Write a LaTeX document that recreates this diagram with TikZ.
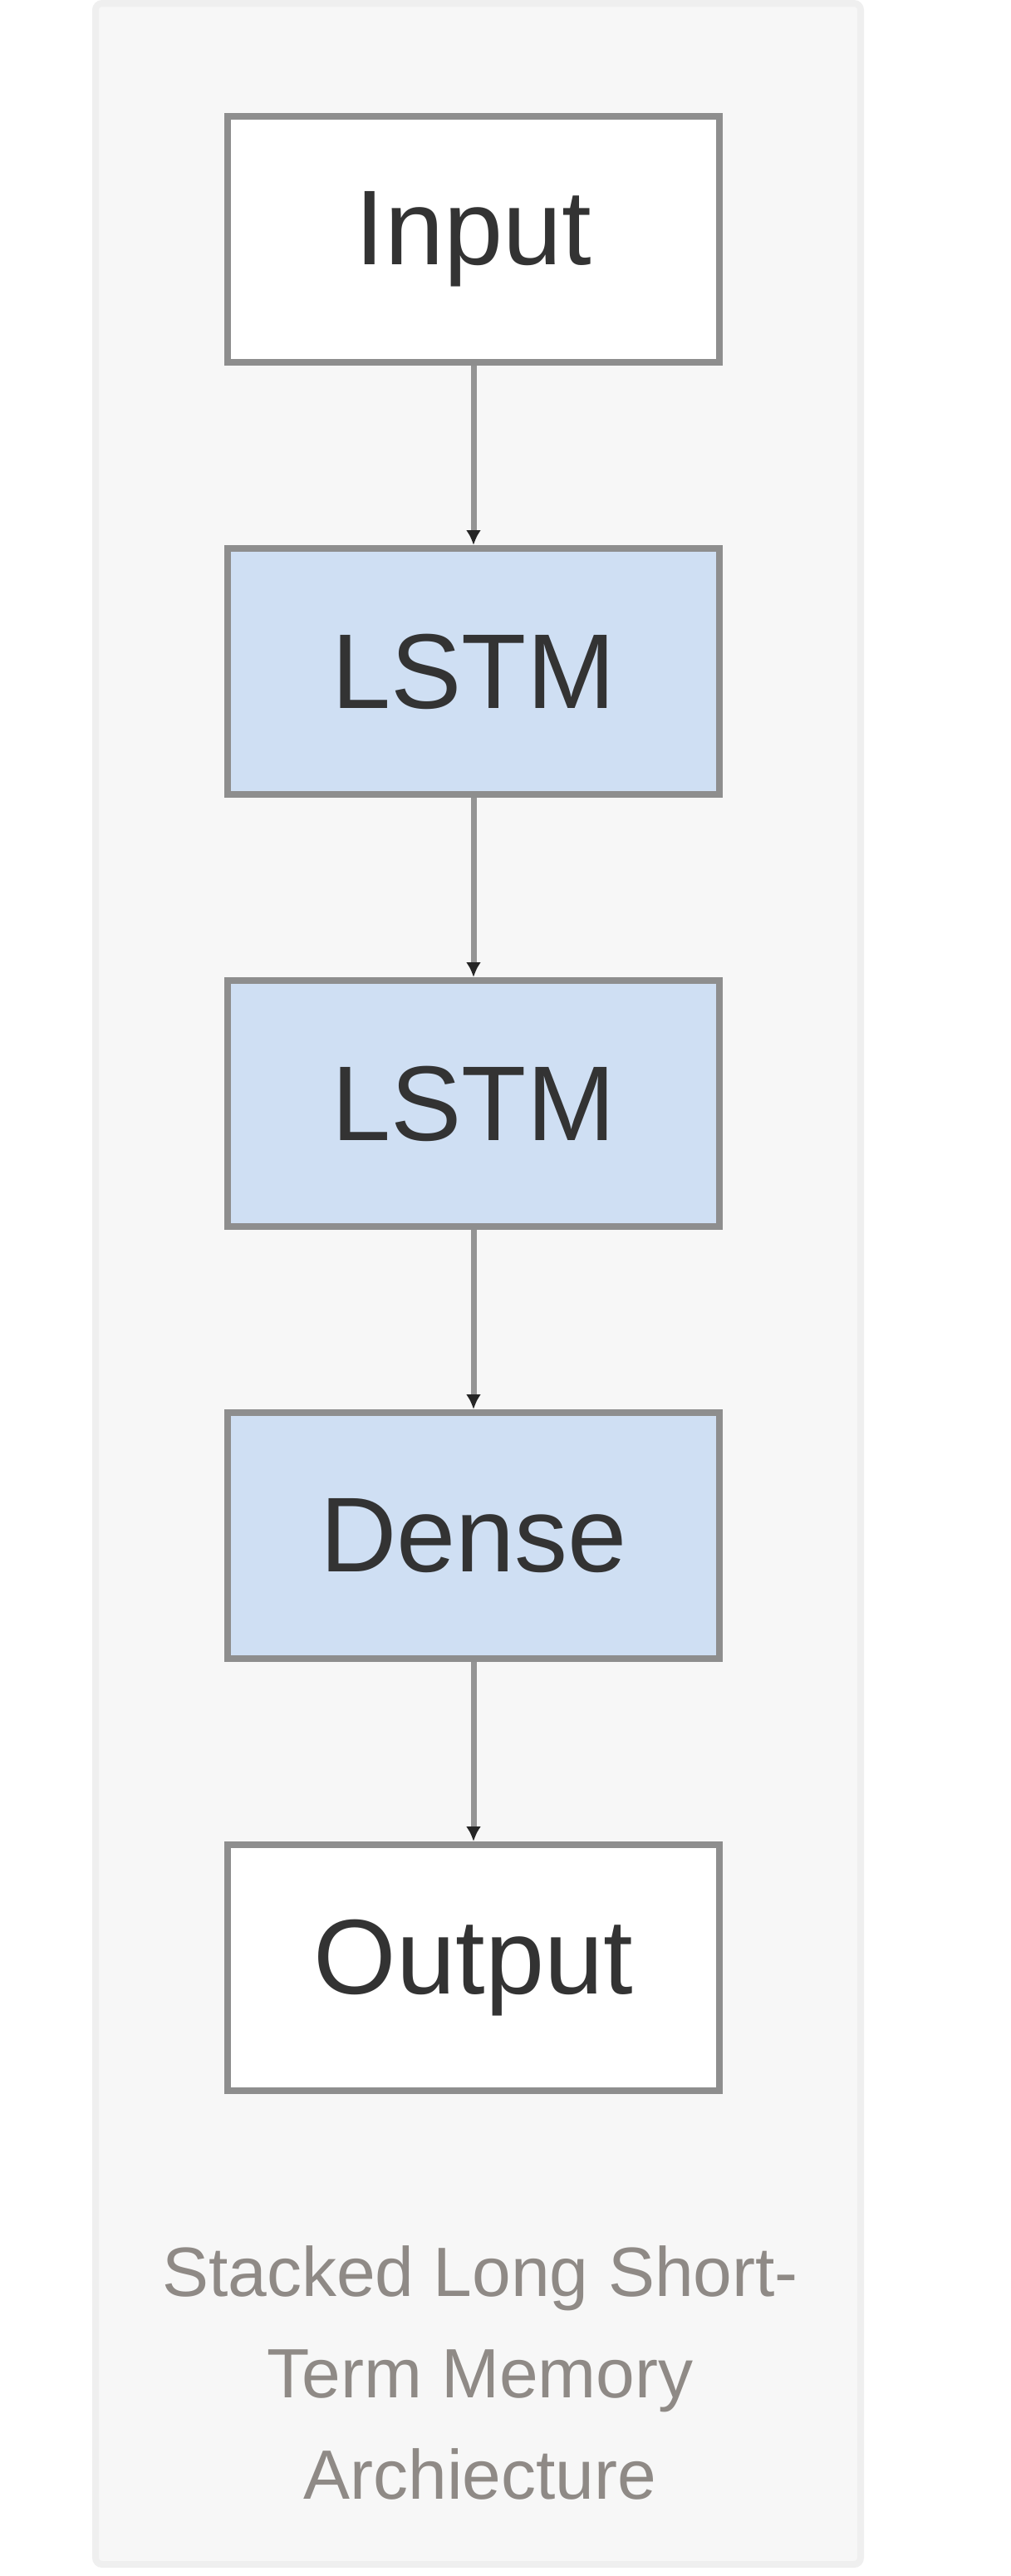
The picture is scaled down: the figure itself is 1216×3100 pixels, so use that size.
\documentclass[tikz,border=0pt]{standalone}
\usepackage{fontspec}
\setmainfont{Liberation Sans}
\usetikzlibrary{positioning, arrows.meta}
\definecolor{panelbg}{HTML}{F7F7F7}
\definecolor{panelrule}{HTML}{EFEFEF}
\definecolor{boxrule}{HTML}{8E8E8E}
\definecolor{layerfill}{HTML}{CFDFF3}
\definecolor{linkgray}{HTML}{949494}
\definecolor{captiongray}{HTML}{8F8A86}

\begin{document}
\begin{tikzpicture}[x=0.5pt, y=-0.5pt, font=\fontsize{64}{64}\selectfont,
    io/.style={draw=boxrule, line width=4pt, fill=white, minimum width=296pt,
      minimum height=148pt, inner sep=0pt, text=black!80},
    layer/.style={io, fill=layerfill},
    flow/.style={draw=linkgray, line width=3.5pt, -{Latex[length=9pt, width=9pt, color=black!85]}},
    node distance=108pt]
    \useasboundingbox (0,0) rectangle (1216,3100);
    % light panel behind the stack
    \draw[fill=panelbg, draw=panelrule, line width=4pt, rounded corners=4pt] (115,4) rectangle (1036,3086);
    \node[io] (input) at (570,288) {Input};
    \node[layer, below=of input] (lstma) {LSTM};
    \node[layer, below=of lstma] (lstmb) {LSTM};
    \node[layer, below=of lstmb] (dense) {Dense};
    \node[io, below=of dense] (output) {Output};
    \foreach \a/\b in {input/lstma, lstma/lstmb, lstmb/dense, dense/output}
      \draw[flow] (\a) -- (\b);
    \node[align=center, text=captiongray, font=\fontsize{42}{61}\selectfont] (caption) at (578,2855)
      {Stacked Long Short-\\Term Memory\\Archiecture};
  \end{tikzpicture}
\end{document}
